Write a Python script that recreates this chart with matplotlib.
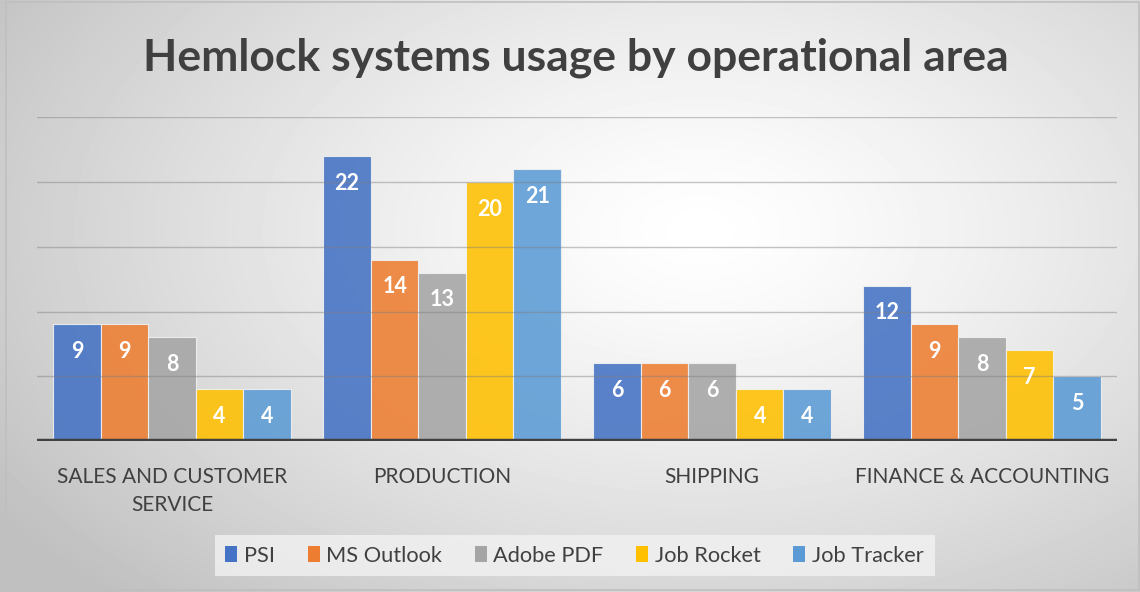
import matplotlib.pyplot as plt
import numpy as np

# Chart data
areas = ["SALES AND CUSTOMER\nSERVICE", "PRODUCTION", "SHIPPING", "FINANCE & ACCOUNTING"]
systems = ["PSI", "MS Outlook", "Adobe PDF", "Job Rocket", "Job Tracker"]
psi = [9, 22, 6, 12]
ms_outlook = [9, 14, 6, 9]
adobe_pdf = [8, 13, 6, 8]
job_rocket = [4, 20, 4, 7]
job_tracker = [4, 21, 4, 5]
colors = ["#4472C4", "#ED7D31", "#A5A5A5", "#FFC000", "#5B9BD5"]

series = [psi, ms_outlook, adobe_pdf, job_rocket, job_tracker]

plt.rcParams['font.family'] = ['Lato', 'DejaVu Sans']

fig = plt.figure(figsize=(11.4, 5.92), dpi=100)

# radial gradient background
bg = fig.add_axes([0, 0, 1, 1])
yy, xx = np.mgrid[0:592, 0:1140]
r = np.sqrt(((xx - 700) / 1000.0) ** 2 + ((yy - 230) / 600.0) ** 2)
shade = 1.0 - 0.25 * np.clip(r / 0.85, 0, 1) ** 1.3
bg.imshow(shade, cmap='gray', vmin=0, vmax=1, aspect='auto', extent=[0, 1, 0, 1])
bg.plot([0.005, 0.9995, 0.9995, 0.005, 0.005], [0.997, 0.997, 0.003, 0.003, 0.997],
        color="#bfbfbf", lw=1.2, transform=bg.transAxes)
bg.set_xlim(0, 1)
bg.set_ylim(0, 1)
bg.axis('off')

ax = fig.add_axes([0.0325, 0.255, 0.9475, 0.547])
ax.patch.set_alpha(0)

x = np.arange(len(areas))
w = 0.176
for i, (name, vals) in enumerate(zip(systems, series)):
    pos = x + (i - 2) * w
    bars = ax.bar(pos, vals, w, color=colors[i], alpha=0.88, edgecolor="#f2f2f2",
                  linewidth=0.8, label=name, zorder=2)
    for b, v in zip(bars, vals):
        ax.annotate(str(v), (b.get_x() + b.get_width() / 2, v), xytext=(0, -19.5),
                    textcoords='offset points', ha='center', va='center',
                    color='white', fontsize=15.5, fontweight='bold', zorder=4)

for g in [5, 10, 15, 20, 25]:
    ax.axhline(g, color="#7f7f7f", lw=1.0, alpha=0.45, zorder=3)
ax.axhline(0, color="#404040", lw=3.2, zorder=5)

ax.set_xlim(-0.5, 3.5)
ax.set_ylim(0, 25)
ax.set_yticks([])
ax.set_xticks(x)
ax.set_xticklabels(areas, fontsize=15, color="#404040", linespacing=1.5)
ax.tick_params(axis='x', length=0, pad=19)
for s in ax.spines.values():
    s.set_visible(False)

fig.text(0.505, 0.903, "Hemlock systems usage by operational area", ha='center', va='center',
         fontsize=32, fontweight='bold', color="#404040")

leg = fig.legend(loc='center', bbox_to_anchor=(0.504, 0.0615), ncol=5, frameon=True,
                 fontsize=15.7, handlelength=0.55, handleheight=0.75, handletextpad=0.3,
                 columnspacing=1.5, borderpad=0.5, fancybox=False)
leg.get_frame().set_facecolor("#f2f2f2")
leg.get_frame().set_alpha(0.8)
leg.get_frame().set_edgecolor("none")
for t in leg.get_texts():
    t.set_color("#404040")
for h in leg.legend_handles:
    h.set_alpha(1.0)
    h.set_edgecolor("none")

fig.savefig("out.png", dpi=100)
